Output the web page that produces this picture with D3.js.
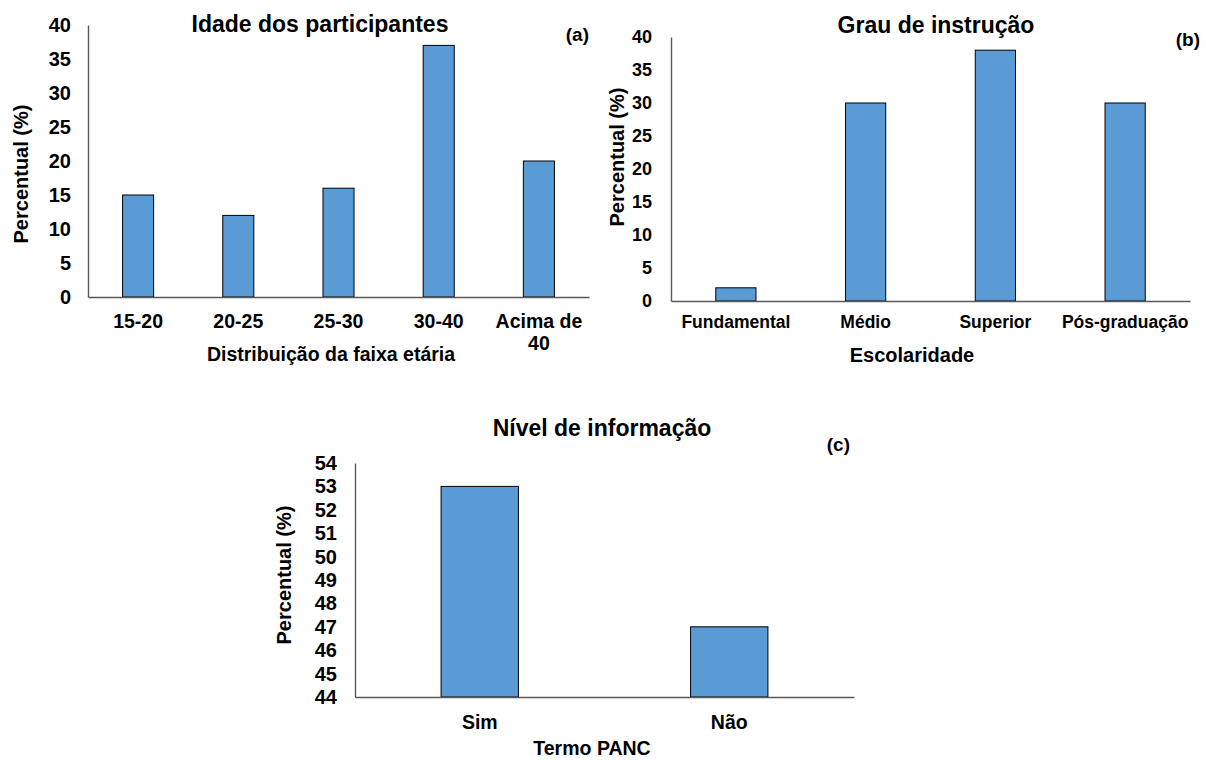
<!DOCTYPE html>
<html>
<head>
<meta charset="utf-8">
<script src="https://cdn.jsdelivr.net/npm/d3@7"></script>
<style>
  html, body { margin: 0; padding: 0; background: #fff; }
  svg { display: block; }
  text { font-family: "Liberation Sans", Arial, sans-serif; font-weight: bold; fill: #000; }
</style>
</head>
<body>
<svg id="chart" width="1206" height="760"></svg>
<script>
// ---- Data ----
const idadeCategorias = ["15-20", "20-25", "25-30", "30-40", "Acima de 40"];
const idadeValores = [15, 12, 16, 37, 20];
const idadeTicks = [0, 5, 10, 15, 20, 25, 30, 35, 40];

const instrucaoCategorias = ["Fundamental", "Médio", "Superior", "Pós-graduação"];
const instrucaoValores = [2, 30, 38, 30];
const instrucaoTicks = [0, 5, 10, 15, 20, 25, 30, 35, 40];

const infoCategorias = ["Sim", "Não"];
const infoValores = [53, 47];
const infoTicks = [44, 45, 46, 47, 48, 49, 50, 51, 52, 53, 54];

// ---- Panels (layout only) ----
const panels = [
  { cats: idadeCategorias, vals: idadeValores, ticks: idadeTicks,
    title: "Idade dos participantes", tag: "(a)", xTitle: "Distribuição da faixa etária",
    x0: 88, x1: 589, yTop: 25, yBot: 297, tickPad: 17, tickFont: 20,
    xLabBase: 328, xLabFont: 19.5,
    titleX: 320, titleY: 32, tagX: 589, tagY: 41,
    yTitleX: 21, yTitleY: 174, xTitleX: 331, xTitleY: 361, xTitleFont: 19.5 },
  { cats: instrucaoCategorias, vals: instrucaoValores, ticks: instrucaoTicks,
    title: "Grau de instrução", tag: "(b)", xTitle: "Escolaridade",
    x0: 671, x1: 1190, yTop: 37, yBot: 301, tickPad: 19, tickFont: 18,
    xLabBase: 328, xLabFont: 17.5,
    titleX: 936, titleY: 33, tagX: 1200, tagY: 46,
    yTitleX: 617, yTitleY: 157, xTitleX: 912, xTitleY: 362, xTitleFont: 20 },
  { cats: infoCategorias, vals: infoValores, ticks: infoTicks,
    title: "Nível de informação", tag: "(c)", xTitle: "Termo PANC",
    x0: 355, x1: 854, yTop: 463, yBot: 697, tickPad: 18, tickFont: 20,
    xLabBase: 729, xLabFont: 19.5,
    titleX: 602, titleY: 436, tagX: 850, tagY: 451,
    yTitleX: 284, yTitleY: 575, xTitleX: 592, xTitleY: 755, xTitleFont: 19.5 }
];

const svg = d3.select("#chart");
const axisColor = "#595959";
const barColor = "#5B9BD5";

panels.forEach(p => {
  const g = svg.append("g");
  const x = d3.scaleBand().domain(p.cats).range([p.x0, p.x1])
    .paddingInner(0.69).paddingOuter(0.345);
  const y = d3.scaleLinear().domain([p.ticks[0], p.ticks[p.ticks.length - 1]])
    .range([p.yBot, p.yTop]);

  // bars
  g.selectAll("rect.bar").data(p.cats).join("rect")
    .attr("class", "bar")
    .attr("x", d => x(d))
    .attr("width", x.bandwidth())
    .attr("y", (d, i) => y(p.vals[i]))
    .attr("height", (d, i) => y(p.ticks[0]) - y(p.vals[i]))
    .attr("fill", barColor)
    .attr("stroke", "#000")
    .attr("stroke-width", 1);

  // y axis
  const ya = g.append("g").attr("transform", `translate(${p.x0},0)`)
    .call(d3.axisLeft(y).tickValues(p.ticks).tickSize(0).tickSizeOuter(0).tickPadding(p.tickPad));
  ya.select(".domain").attr("stroke", axisColor).attr("stroke-width", 1.4);
  ya.selectAll(".tick text").style("font-size", p.tickFont + "px").attr("fill", "#000")
    .style("font-family", '"Liberation Sans", Arial, sans-serif').style("font-weight", "bold");

  // x axis
  const xa = g.append("g").attr("transform", `translate(0,${p.yBot})`)
    .call(d3.axisBottom(x).tickSize(0).tickSizeOuter(0));
  xa.select(".domain").attr("stroke", axisColor).attr("stroke-width", 1.4);
  xa.selectAll(".tick text").each(function(d) {
    const t = d3.select(this);
    t.text(null).attr("y", p.xLabBase - p.yBot).attr("dy", null)
      .style("font-size", p.xLabFont + "px").attr("fill", "#000")
      .style("font-family", '"Liberation Sans", Arial, sans-serif').style("font-weight", "bold");
    if (d === "Acima de 40") {
      t.append("tspan").attr("x", 0).text("Acima de");
      t.append("tspan").attr("x", 0).attr("dy", 22).text("40");
    } else {
      t.text(d);
    }
  });

  // titles
  g.append("text").attr("x", p.titleX).attr("y", p.titleY).attr("text-anchor", "middle")
    .style("font-size", "23px").text(p.title);
  g.append("text").attr("x", p.tagX).attr("y", p.tagY).attr("text-anchor", "end")
    .style("font-size", "19px").text(p.tag);
  g.append("text")
    .attr("transform", `translate(${p.yTitleX},${p.yTitleY}) rotate(-90)`)
    .attr("text-anchor", "middle").attr("dy", "0.35em")
    .style("font-size", "20px").text("Percentual (%)");
  g.append("text").attr("x", p.xTitleX).attr("y", p.xTitleY).attr("text-anchor", "middle")
    .style("font-size", p.xTitleFont + "px").text(p.xTitle);
});
</script>
</body>
</html>
